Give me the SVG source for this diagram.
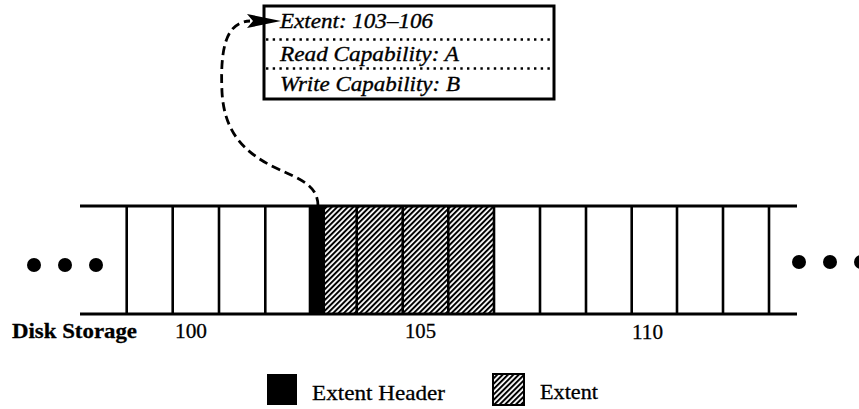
<svg xmlns="http://www.w3.org/2000/svg" width="859" height="409" viewBox="0 0 859 409">
  <style>
    .rule { stroke: #000; stroke-width: 3; fill: none; }
    .cell { stroke: #000; stroke-width: 2.6; }
    .dot { fill: #000; }
    .field { font-family: "Liberation Serif", "Times New Roman", serif; font-style: italic; font-size: 21px; fill: #000; stroke: #000; stroke-width: 0.35; }
    .label { font-family: "Liberation Serif", "Times New Roman", serif; font-size: 21px; fill: #000; stroke: #000; stroke-width: 0.3; }
    .bold { font-weight: bold; }
    .sep { stroke: #000; stroke-width: 2.4; stroke-dasharray: 2.4 4.3; fill: none; }
    .link { stroke: #000; stroke-width: 2.8; stroke-dasharray: 9 5; fill: none; }
  </style>
  <defs>
    <pattern id="hatch" patternUnits="userSpaceOnUse" width="3.8" height="3.8" patternTransform="rotate(45)">
      <rect x="0" y="0" width="3.8" height="3.8" fill="#fff"/>
      <rect x="0" y="0" width="2" height="3.8" fill="#000"/>
    </pattern>
  </defs>

  <rect width="859" height="409" fill="#fff"/>

  <!-- extent descriptor record -->
  <g id="descriptor">
    <rect x="264" y="6" width="290" height="93" fill="#fff" stroke="#000" stroke-width="3"/>
    <line class="sep" x1="266" y1="39.5" x2="552" y2="39.5"/>
    <line class="sep" x1="266" y1="68.5" x2="552" y2="68.5"/>
    <text class="field" x="280" y="28" textLength="153" lengthAdjust="spacingAndGlyphs">Extent: 103–106</text>
    <text class="field" x="280" y="61" textLength="179" lengthAdjust="spacingAndGlyphs">Read Capability: A</text>
    <text class="field" x="280" y="91" textLength="180" lengthAdjust="spacingAndGlyphs">Write Capability: B</text>
  </g>

  <!-- disk storage strip -->
  <g id="storage">
    <rect x="325" y="207" width="169" height="106" fill="url(#hatch)"/>
    <rect x="310" y="207" width="15" height="106" fill="#000"/>
    <line class="rule" x1="80" y1="206" x2="797" y2="206"/>
    <line class="rule" x1="80" y1="314" x2="797" y2="314"/>
    <g class="cell">
      <line x1="126.7" y1="206" x2="126.7" y2="314"/>
      <line x1="172.7" y1="206" x2="172.7" y2="314"/>
      <line x1="219" y1="206" x2="219" y2="314"/>
      <line x1="265.3" y1="206" x2="265.3" y2="314"/>
      <line x1="310" y1="206" x2="310" y2="314"/>
      <line x1="356.7" y1="206" x2="356.7" y2="314"/>
      <line x1="402.7" y1="206" x2="402.7" y2="314"/>
      <line x1="448.3" y1="206" x2="448.3" y2="314"/>
      <line x1="494" y1="206" x2="494" y2="314"/>
      <line x1="540" y1="206" x2="540" y2="314"/>
      <line x1="586" y1="206" x2="586" y2="314"/>
      <line x1="631.7" y1="206" x2="631.7" y2="314"/>
      <line x1="677" y1="206" x2="677" y2="314"/>
      <line x1="723" y1="206" x2="723" y2="314"/>
      <line x1="769" y1="206" x2="769" y2="314"/>
    </g>
    <circle class="dot" cx="34" cy="265" r="7"/>
    <circle class="dot" cx="65" cy="265" r="7"/>
    <circle class="dot" cx="96" cy="265" r="7"/>
    <circle class="dot" cx="799" cy="262" r="7"/>
    <circle class="dot" cx="830" cy="262" r="7"/>
    <circle class="dot" cx="861" cy="262" r="7"/>
    <text class="label bold" x="12" y="338" textLength="125" lengthAdjust="spacingAndGlyphs">Disk Storage</text>
    <text class="label" x="175" y="338" textLength="32" lengthAdjust="spacingAndGlyphs">100</text>
    <text class="label" x="405" y="338" textLength="31" lengthAdjust="spacingAndGlyphs">105</text>
    <text class="label" x="632" y="339" textLength="31" lengthAdjust="spacingAndGlyphs">110</text>
  </g>

  <!-- legend -->
  <g id="legend-header">
    <rect x="267" y="374" width="30" height="31" fill="#000"/>
    <text class="label" x="312" y="400" textLength="133" lengthAdjust="spacingAndGlyphs">Extent Header</text>
  </g>
  <g id="legend-extent">
    <rect x="493" y="374" width="31" height="31" fill="url(#hatch)" stroke="#000" stroke-width="2"/>
    <text class="label" x="540" y="399" textLength="58" lengthAdjust="spacingAndGlyphs">Extent</text>
  </g>

  <!-- pointer from extent header to its descriptor -->
  <g id="connectors">
    <path class="link" d="M318,206 C318,186 302,180 276,168 C242,152 224,130 222,92 C220,48 226,22 250,21"/>
    <polygon points="281,21 247,14 253,21 247,28" fill="#000"/>
  </g>
</svg>
